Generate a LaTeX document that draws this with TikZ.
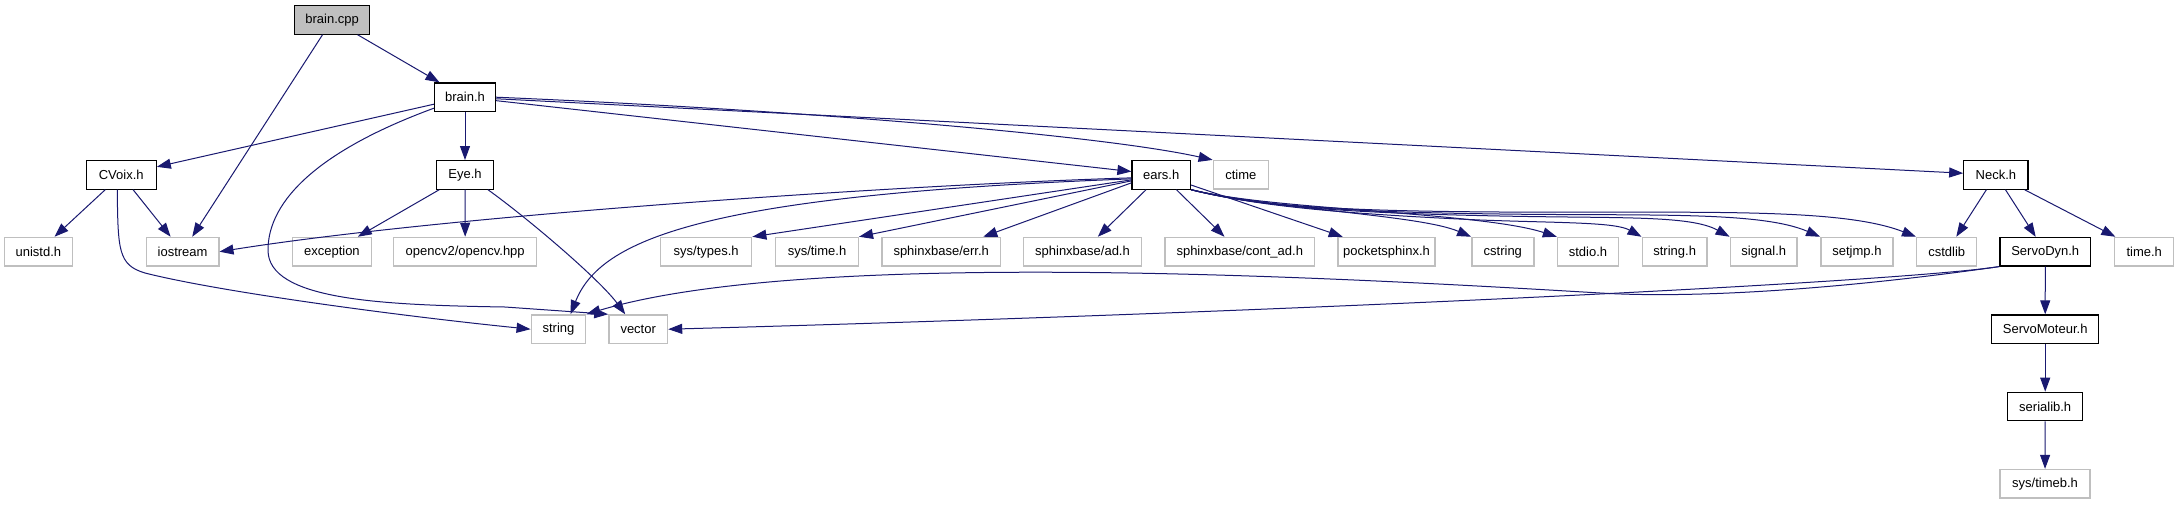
\documentclass[tikz,border=0pt]{standalone}
\usepackage{fontspec}
\setmainfont{Liberation Sans}
\usetikzlibrary{arrows.meta,calc}
\definecolor{edgeblue}{HTML}{191970}
\definecolor{lightframe}{HTML}{BFBFBF}
\definecolor{rootfill}{HTML}{BFBFBF}
\tikzset{
  box/.style={draw, fill=white, inner sep=0pt, minimum height=28.5pt, font=\fontsize{13}{15}\selectfont, text=black},
  extbox/.style={box, draw=lightframe, line width=1.4pt},
  intbox/.style={box, draw=black, line width=1.2pt},
  rootbox/.style={box, draw=black, fill=rootfill, line width=1.2pt},
  edge/.style={draw=edgeblue, line width=1pt, -{Triangle[length=14pt,width=10pt]}, fill=none}
}
\begin{document}
\begin{tikzpicture}[x=1pt,y=-1pt]
\fill[white] (0,0) rectangle (2179,504);
\useasboundingbox (0,0) rectangle (2179,504);

% level 0
\node[rootbox, minimum width=75pt] (brcpp) at (332.1,19.9) {brain.cpp};
% level 1
\node[intbox, minimum width=61pt] (brainh) at (465,97.2) {brain.h};
% level 2
\node[intbox, minimum width=70pt] (cvoix) at (121.25,174.85) {CVoix.h};
\node[intbox, minimum width=56.7pt] (eye) at (465,174.85) {Eye.h};
\node[intbox, minimum width=58.5pt] (ears) at (1161.25,174.85) {ears.h};
\node[extbox, minimum width=55pt] (ctime) at (1240.8,174.85) {ctime};
\node[intbox, minimum width=64.3pt] (neck) at (1995.9,174.85) {Neck.h};
% level 3
\node[extbox, minimum width=67.8pt] (unistd) at (38.4,251.7) {unistd.h};
\node[extbox, minimum width=72.4pt] (iostream) at (182.6,251.7) {iostream};
\node[extbox, minimum width=79pt] (exception) at (331.9,251.7) {exception};
\node[extbox, minimum width=142.9pt] (opencv) at (465.2,251.7) {opencv2/opencv.hpp};
\node[extbox, minimum width=91pt] (systypes) at (706.2,251.7) {sys/types.h};
\node[extbox, minimum width=82.7pt] (systime) at (817,251.7) {sys/time.h};
\node[extbox, minimum width=118.7pt] (err) at (941.2,251.7) {sphinxbase/err.h};
\node[extbox, minimum width=118.2pt] (ad) at (1082.5,251.7) {sphinxbase/ad.h};
\node[extbox, minimum width=149.5pt] (contad) at (1239.75,251.7) {sphinxbase/cont\_ad.h};
\node[extbox, minimum width=97pt] (pocket) at (1386.5,251.7) {pocketsphinx.h};
\node[extbox, minimum width=62pt] (cstring) at (1502.8,251.7) {cstring};
\node[extbox, minimum width=61pt] (stdio) at (1588,251.7) {stdio.h};
\node[extbox, minimum width=64.9pt] (stringh) at (1674.65,251.7) {string.h};
\node[extbox, minimum width=66.8pt] (signal) at (1763.7,251.7) {signal.h};
\node[extbox, minimum width=72.2pt] (setjmp) at (1856.9,251.7) {setjmp.h};
\node[extbox, minimum width=60pt] (cstdlib) at (1946.7,251.7) {cstdlib};
\node[intbox, minimum width=90.5pt] (servodyn) at (2045.25,251.7) {ServoDyn.h};
\node[extbox, minimum width=59pt] (timeh) at (2144.2,251.7) {time.h};
% level 4
\node[extbox, minimum width=54.5pt] (string) at (558.5,329.2) {string};
\node[extbox, minimum width=58.6pt] (vector) at (638.2,329.2) {vector};
\node[intbox, minimum width=107pt] (servomoteur) at (2045.2,329.2) {ServoMoteur.h};
% level 5
\node[intbox, minimum width=75pt] (serialib) at (2045.2,406.5) {serialib.h};
% level 6
\node[extbox, minimum width=90pt] (timeb) at (2045,483.8) {sys/timeb.h};

% edges from brain.cpp
\draw[edge] (brcpp) -- (brainh);
\draw[edge] (brcpp) -- (iostream);
% edges from brain.h
\draw[edge] (brainh) -- (cvoix);
\draw[edge] ($(brainh.west)+(0,11)$) .. controls (320,150) and (268,200) .. (268,250) .. controls (268,300) and (380,305) .. (505,307) -- (vector.north west);
\draw[edge] (brainh) -- (eye);
\draw[edge] (brainh) -- (ears);
\draw[edge] (brainh.east) .. controls (800,110) and (1100,135) .. (ctime.north west);
\draw[edge] (brainh) -- (neck);
% edges from CVoix.h
\draw[edge] (cvoix) -- (unistd);
\draw[edge] (cvoix) -- (iostream);
\draw[edge] ($(cvoix.south)+(-4,0)$) .. controls (118,250) and (118,265) .. (145,273) .. controls (220,292) and (400,316) .. (string.west);
% edges from Eye.h
\draw[edge] (eye) -- (exception);
\draw[edge] (eye) -- (opencv);
\draw[edge] ($(eye.south east)+(-6,0)$) .. controls (530,220) and (600,280) .. ($(vector.north)+(-13,0)$);
% edges from ears.h
\draw[edge] ($(ears.west)+(0,3)$) .. controls (900,185) and (450,215) .. (iostream.east);
\draw[edge] ($(ears.west)+(0,4)$) .. controls (700,195) and (600,240) .. ($(string.north)+(12,0)$);
\draw[edge] ($(ears.west)+(0,5)$) -- (systypes.north east);
\draw[edge] ($(ears.west)+(0,6)$) -- (systime.north east);
\draw[edge] ($(ears.west)+(0,8)$) -- ($(err.north east)+(-18,0)$);
\draw[edge] (ears) -- (ad);
\draw[edge] (ears) -- (contad);
\draw[edge] (ears) -- (pocket);
\draw[edge] (ears.south east) .. controls (1280,210) and (1420,215) .. (cstring.north west);
\draw[edge] (ears.south east) .. controls (1270,210) and (1480,212) .. (stdio.north west);
\draw[edge] (ears.south east) .. controls (1260,207) and (1350,214) .. (1480,220) .. controls (1560,223) and (1615,222) .. (stringh.north west);
\draw[edge] (ears.south east) .. controls (1260,207) and (1350,213) .. (1500,216) .. controls (1620,218.5) and (1690,215) .. (signal.north west);
\draw[edge] (ears.south east) .. controls (1260,207) and (1350,212) .. (1500,214) .. controls (1650,216) and (1760,211) .. (setjmp.north west);
\draw[edge] (ears.south east) .. controls (1260,207) and (1350,211) .. (1500,212) .. controls (1700,213.3) and (1840,207) .. (cstdlib.north west);
% edges from Neck.h
\draw[edge] (neck) -- (cstdlib);
\draw[edge] (neck) -- (servodyn);
\draw[edge] (neck) -- (timeh);
% edges from ServoDyn.h
\draw[edge] (servodyn.south west) .. controls (1900,282) and (1300,312) .. (vector.east);
\draw[edge] (servodyn.south west) .. controls (1850,288) and (1700,299) .. (1600,293) .. controls (1300,275) and (800,250) .. (string.north east);
\draw[edge] (servodyn) -- (servomoteur);
\draw[edge] (servomoteur) -- (serialib);
\draw[edge] (serialib) -- (timeb);
\end{tikzpicture}
\end{document}
